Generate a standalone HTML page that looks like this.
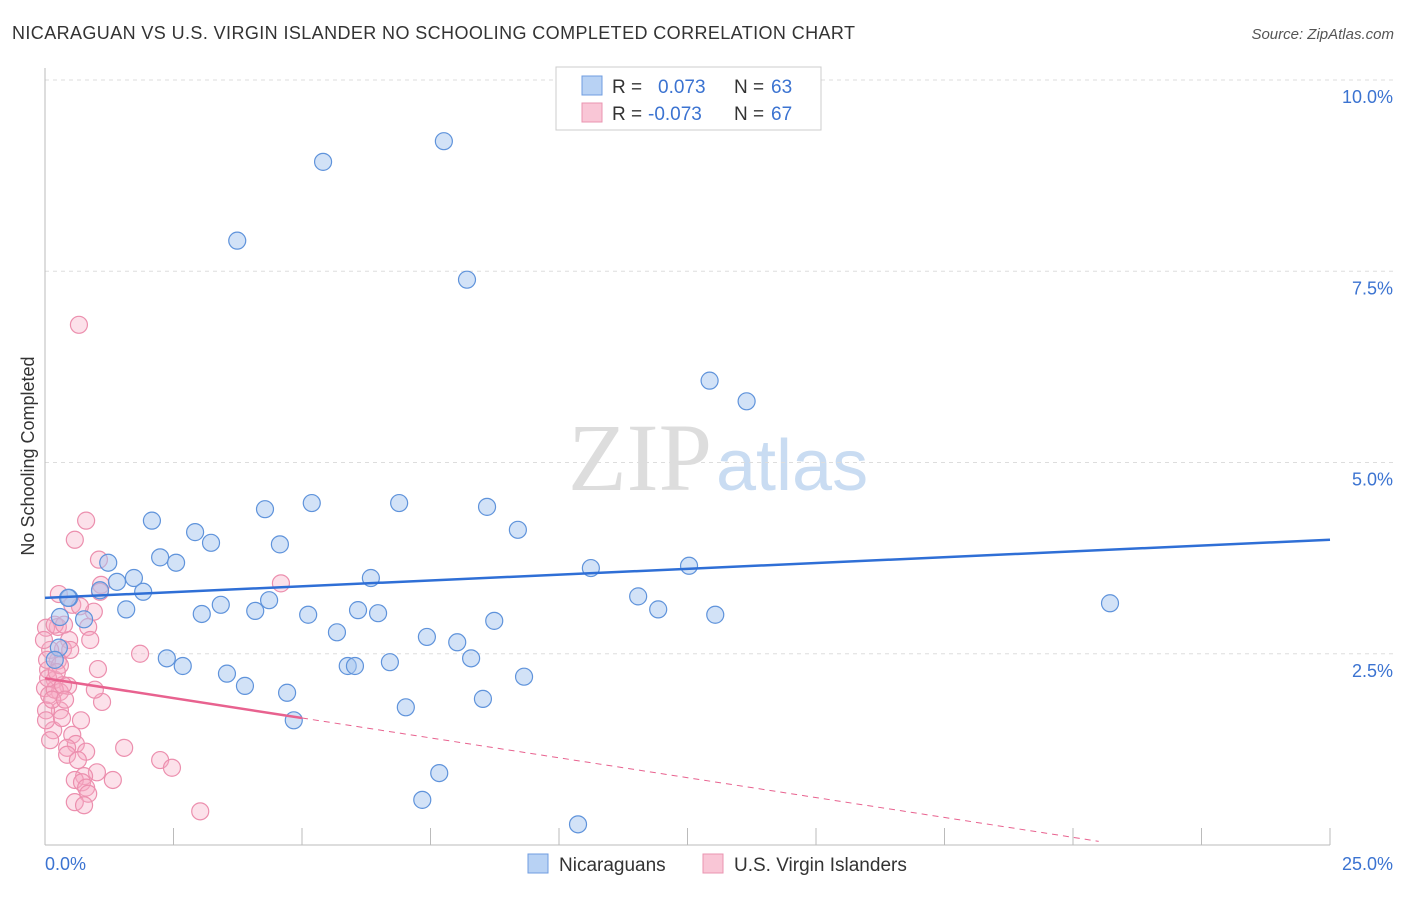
<!DOCTYPE html>
<html><head><meta charset="utf-8"><style>
body{margin:0;background:#fff;font-family:"Liberation Sans",sans-serif}
</style></head><body>
<svg width="1406" height="892" viewBox="0 0 1406 892" xmlns="http://www.w3.org/2000/svg" font-family="Liberation Sans, sans-serif">
<text x="12" y="39" font-size="18" fill="#333" textLength="843">NICARAGUAN VS U.S. VIRGIN ISLANDER NO SCHOOLING COMPLETED CORRELATION CHART</text>
<text x="1394" y="39" font-size="15" fill="#555" font-style="italic" text-anchor="end">Source: ZipAtlas.com</text>
<text x="712" y="490" font-size="96" fill="#ddd" font-family="Liberation Serif, serif" text-anchor="end">ZIP</text>
<text x="716" y="490" font-size="72" fill="#c9dcf2">atlas</text>
<g id="grid"></g>
<line x1="45" y1="68" x2="45" y2="845" stroke="#bbb"/>
<line x1="45" y1="845" x2="1330" y2="845" stroke="#bbb"/>
<g id="xticks"></g>
<text x="34" y="456" font-size="18" fill="#333" transform="rotate(-90 34 456)" text-anchor="middle">No Schooling Completed</text>
<g id="pts"></g>
<g id="lines"></g>
<g>
<rect x="556" y="67" width="265" height="63" fill="#fff" stroke="#ccc"/>
<rect x="582" y="76" width="20" height="19" fill="#b8d2f4" stroke="#6f9ce0"/>
<rect x="582" y="103" width="20" height="19" fill="#f9c6d6" stroke="#ea94b0"/>
<text x="612" y="93" font-size="19" fill="#333">R = <tspan x="658" fill="#3b73d1">0.073</tspan><tspan x="734">N = </tspan><tspan x="771" fill="#3b73d1">63</tspan></text>
<text x="612" y="120" font-size="19" fill="#333">R = <tspan x="648" fill="#3b73d1">-0.073</tspan><tspan x="734">N = </tspan><tspan x="771" fill="#3b73d1">67</tspan></text>
</g>
<g>
<rect x="528" y="854" width="20" height="19" fill="#b8d2f4" stroke="#6f9ce0"/>
<text x="559" y="871" font-size="19" fill="#333">Nicaraguans</text>
<rect x="703" y="854" width="20" height="19" fill="#f9c6d6" stroke="#ea94b0"/>
<text x="734" y="871" font-size="19" fill="#333">U.S. Virgin Islanders</text>
</g>
<text x="45" y="870" font-size="18" fill="#3b73d1">0.0%</text>
<text x="1393" y="870" font-size="18" fill="#3b73d1" text-anchor="end">25.0%</text>
</svg>
<script>
const yTicks=[2.5,5,7.5,10];
const yTickLabels=["2.5%","5.0%","7.5%","10.0%"];
const xTicks=[0,2.5,5,7.5,10,12.5,15,17.5,20,22.5,25];
const blueX=[7.76,5.41,3.74,8.21,12.93,13.65,2.08,4.28,5.19,6.89,8.60,9.20,2.92,3.23,4.57,2.24,2.55,1.23,10.62,12.53,1.73,1.40,6.34,1.91,1.07,0.47,0.76,1.58,3.42,3.05,4.09,4.36,5.12,6.09,6.48,11.54,11.93,13.04,20.72,8.74,5.68,7.43,8.02,2.37,2.68,5.89,6.03,6.71,8.29,3.54,3.89,9.32,4.71,7.02,8.52,4.84,7.67,7.34,10.37,0.27,0.19,0.29,0.45];
const blueY=[9.20,8.93,7.90,7.39,6.07,5.80,4.24,4.39,4.47,4.47,4.42,4.12,4.09,3.95,3.93,3.76,3.69,3.69,3.62,3.65,3.49,3.44,3.49,3.31,3.33,3.23,2.95,3.08,3.14,3.02,3.06,3.20,3.01,3.07,3.03,3.25,3.08,3.01,3.16,2.93,2.78,2.72,2.65,2.44,2.34,2.34,2.34,2.39,2.44,2.24,2.08,2.20,1.99,1.80,1.91,1.63,0.94,0.59,0.27,2.58,2.42,2.98,3.23];
const pinkX=[0.66,0.80,0.58,1.05,1.09,1.07,0.27,0.53,0.95,0.68,0.25,0.02,0.84,0.47,0.35,0.10,0.25,1.03,0.06,0.19,0.45,0.00,0.29,0.08,0.19,0.35,1.11,0.29,0.02,0.70,0.16,0.53,0.60,0.43,0.80,1.54,0.43,0.64,1.01,0.76,0.58,2.24,2.47,0.72,0.80,1.32,0.84,0.58,0.76,3.02,1.85,4.59,0.19,0.37,0.04,0.14,0.02,0.29,0.49,0.88,0.97,0.10,0.39,0.06,0.23,-0.02,0.33];
const pinkY=[6.80,4.24,3.99,3.73,3.40,3.31,3.28,3.14,3.05,3.12,2.85,2.84,2.85,2.68,2.56,2.55,2.41,2.30,2.29,2.16,2.08,2.05,2.00,1.96,2.03,2.09,1.87,1.76,1.76,1.63,1.50,1.44,1.32,1.27,1.22,1.27,1.18,1.11,0.95,0.90,0.85,1.11,1.01,0.82,0.75,0.85,0.67,0.56,0.52,0.44,2.50,3.42,2.88,2.88,2.42,1.90,1.63,2.35,2.55,2.68,2.03,1.37,1.90,2.18,2.26,2.68,1.66];
const blueLine=[3.23,3.99];
const pinkLine=[2.18,-0.42];
const pinkSolidEnd=5.0, pinkDashEnd=20.5;
const X=v=>45+v/25*1285, Y=v=>845-v*76.5;
const NS='http://www.w3.org/2000/svg';
function mk(t,a,p){const e=document.createElementNS(NS,t);for(const k in a)e.setAttribute(k,a[k]);p.appendChild(e);return e;}
const grid=document.getElementById('grid');
yTicks.forEach((t,i)=>{
 const l=mk('line',{x1:45,x2:1394,y1:Y(t),y2:Y(t),stroke:'#ddd','stroke-dasharray':'4,4'},grid);
 
 
 const tx=mk('text',{x:1393,y:Y(t)+23,'font-size':18,fill:'#3b73d1','text-anchor':'end'},grid);
 tx.textContent=yTickLabels[i];
 
 
});
const xt=document.getElementById('xticks');
xTicks.forEach(t=>{
 const l=mk('line',{x1:X(t),x2:X(t),y1:828,y2:845,stroke:'#bbb'},xt);
 
 
});
const pts=document.getElementById('pts');
pinkX.forEach((x,i)=>{
 const c=mk('circle',{cx:X(x),cy:Y(pinkY[i]),r:8.5,fill:'rgba(246,170,196,0.35)',stroke:'#ec8fae','stroke-width':1.2},pts);
 
 
});
blueX.forEach((x,i)=>{
 const c=mk('circle',{cx:X(x),cy:Y(blueY[i]),r:8.5,fill:'rgba(165,198,240,0.5)',stroke:'#5f93db','stroke-width':1.2},pts);
 
 
});
const ln=document.getElementById('lines');
const pl=x=>pinkLine[0]+(pinkLine[1]-pinkLine[0])*x/25;
let a=mk('line',{x1:X(0),y1:Y(blueLine[0]),x2:X(25),y2:Y(blueLine[1]),stroke:'#2f6fd6','stroke-width':2.5},ln);


a=mk('line',{x1:X(0),y1:Y(pl(0)),x2:X(pinkSolidEnd),y2:Y(pl(pinkSolidEnd)),stroke:'#e8628f','stroke-width':2.5},ln);


a=mk('line',{x1:X(pinkSolidEnd),y1:Y(pl(pinkSolidEnd)),x2:X(pinkDashEnd),y2:Y(pl(pinkDashEnd)),stroke:'#e8628f','stroke-width':1,'stroke-dasharray':'6,5'},ln);


</script>
</body></html>
